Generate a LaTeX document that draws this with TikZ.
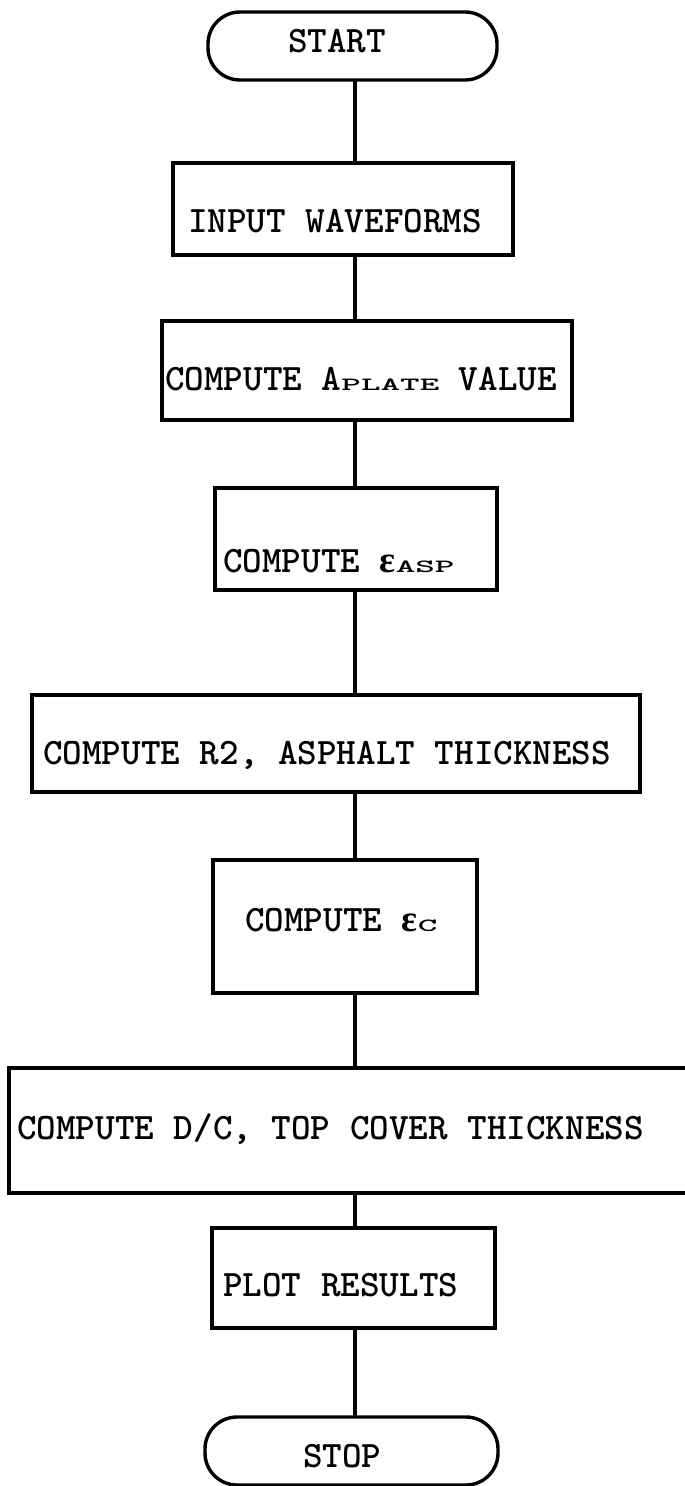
\documentclass[tikz,border=0pt]{standalone}
\usepackage{fontspec}
\usepackage{graphicx}
\newfontfamily\grk{Liberation Serif}
\newcommand\sqsub[1]{\scalebox{1}[0.5]{#1}}
\newcommand\eps{{\grk\bfseries ε}}
\tikzset{
  x=1pt, y=-1pt,
  boxline/.style={draw=black, line width=3.4pt},
  procbox/.style={boxline, rectangle, inner sep=0pt, outer sep=0pt},
  termbox/.style={boxline, rectangle, rounded corners=32pt, inner sep=0pt, outer sep=0pt},
  lbl/.style={anchor=base west, inner sep=0pt, font=\ttfamily\bfseries\fontsize{37.3}{40}\selectfont},
  conn/.style={draw=black, line width=3.4pt}
}
\begin{document}
\begin{tikzpicture}
\useasboundingbox[fill=white] (0,0) rectangle (685,1486);
% shapes
\node[termbox, minimum width=289pt, minimum height=68pt] (start) at (352.5,46) {};
\node[procbox, minimum width=340pt, minimum height=92pt] (b1) at (343,209) {};
\node[procbox, minimum width=410pt, minimum height=99pt] (b2) at (367,370.5) {};
\node[procbox, minimum width=282pt, minimum height=102pt] (b3) at (356,539) {};
\node[procbox, minimum width=608pt, minimum height=97pt] (b4) at (336,743.5) {};
\node[procbox, minimum width=264pt, minimum height=133pt] (b5) at (345,926.5) {};
\node[procbox, minimum width=679pt, minimum height=125pt] (b6) at (348.5,1130.5) {};
\node[procbox, minimum width=283pt, minimum height=100pt] (b7) at (353.5,1278) {};
\node[termbox, minimum width=293pt, minimum height=68pt] (stop) at (351.5,1451) {};
% texts
\node[lbl] (t0) at (288,52) {START};
\node[lbl] (t1) at (188,232) {INPUT WAVEFORMS};
\node[lbl] (t2) at (165,390) {COMPUTE A\sqsub{PLATE} VALUE};
\node[lbl] (t3) at (223,572) {COMPUTE \eps\sqsub{ASP}};
\node[lbl] (t4) at (43,764) {COMPUTE R2, ASPHALT THICKNESS};
\node[lbl] (t5) at (245,931) {COMPUTE \eps\sqsub{C}};
\node[lbl] (t6) at (17,1139) {COMPUTE D/C, TOP COVER THICKNESS};
\node[lbl] (t7) at (223,1296) {PLOT RESULTS};
\node[lbl] (t8) at (303,1467) {STOP};
% connectors
\coordinate (xl) at (355,0);
\draw[conn] (start.south -| xl) -- (b1.north -| xl);
\draw[conn] (b1.south -| xl) -- (b2.north -| xl);
\draw[conn] (b2.south -| xl) -- (b3.north -| xl);
\draw[conn] (b3.south -| xl) -- (b4.north -| xl);
\draw[conn] (b4.south -| xl) -- (b5.north -| xl);
\draw[conn] (b5.south -| xl) -- (b6.north -| xl);
\draw[conn] (b6.south -| xl) -- (b7.north -| xl);
\draw[conn] (b7.south -| xl) -- (stop.north -| xl);
\end{tikzpicture}
\end{document}
